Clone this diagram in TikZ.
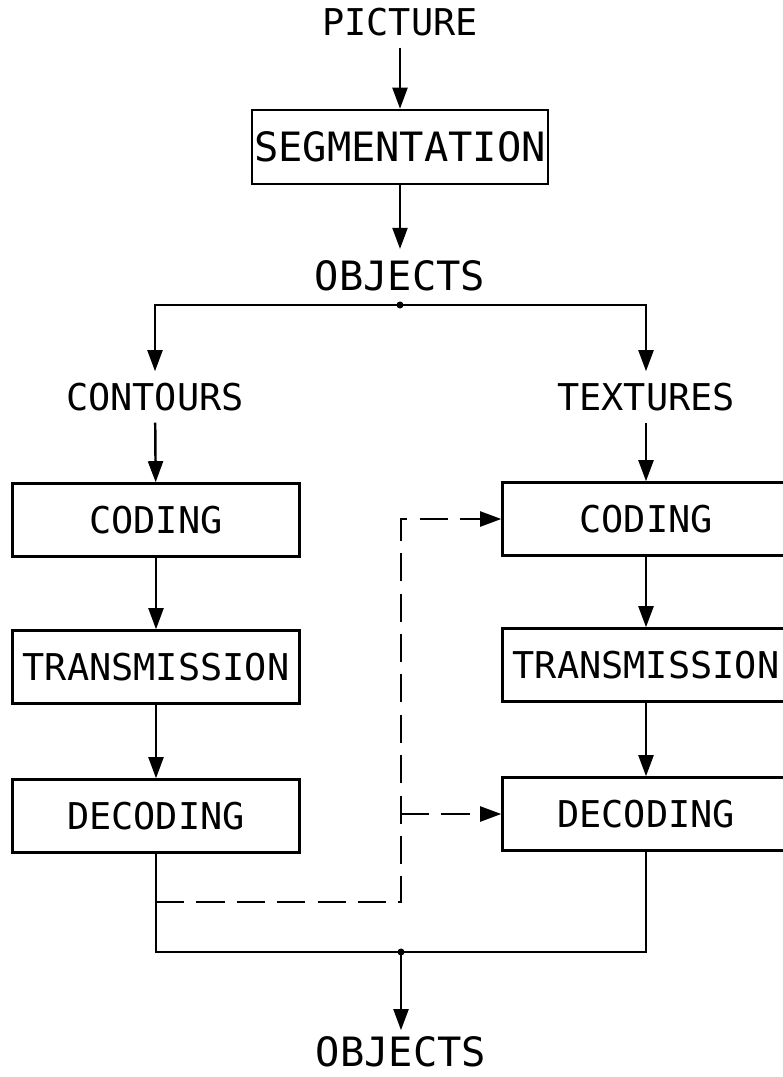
\documentclass[tikz,border=0pt]{standalone}
\usepackage{fontspec}
\setmonofont{DejaVu Sans Mono}
\usetikzlibrary{arrows.meta}

\begin{document}
\begin{tikzpicture}[x=0.02cm, y=-0.02cm, line width=1.4pt,
    every node/.style={font=\ttfamily\fontsize{21}{25}\selectfont},
    stage/.style={draw, minimum width=5.74cm, minimum height=1.46cm, inner sep=0pt},
    dataname/.style={inner sep=6pt},
    big/.style={font=\ttfamily\fontsize{23}{27}\selectfont},
    flow/.style={-{Triangle[length=12pt,width=8.5pt]}},
    feed/.style={flow, dash pattern=on 16pt off 7pt}]

    % Page frame, the right column runs off the edge
    \useasboundingbox (0,0) rectangle (783,1077);
    \clip (0,0) rectangle (783,1077);

    % Top part: picture to objects
    \node[dataname] (pic) at (400,22) {PICTURE};
    \node[stage, big, minimum width=5.92cm, minimum height=1.48cm] (seg) at (400,147) {SEGMENTATION};
    \node[dataname, big] (obj) at (400,276) {OBJECTS};
    \coordinate (split) at (400,305);

    \node[dataname] (cont) at (155,397) {CONTOURS};
    \node[dataname] (text) at (646,397) {TEXTURES};

    % Contour chain
    \node[stage] (ccod) at (156,520) {CODING};
    \node[stage] (ctra) at (156,667) {TRANSMISSION};
    \node[stage] (cdec) at (156,816) {DECODING};

    % Texture chain
    \node[stage] (tcod) at (646,519) {CODING};
    \node[stage] (ttra) at (646,665) {TRANSMISSION};
    \node[stage] (tdec) at (646,814) {DECODING};

    \coordinate (merge) at (401,952);
    \node[dataname, big, inner sep=3pt] (out) at (401,1052) {OBJECTS};

    % Solid flow
    \draw[flow] (pic) -- (seg);
    \draw[flow] (seg) -- (obj);
    \draw (obj) -- (split);
    \draw[flow] (split) -| (cont);
    \draw[flow] (split) -| (text);
    \draw[flow] (cont) -- (ccod);
    \draw[flow] (ccod) -- (ctra);
    \draw[flow] (ctra) -- (cdec);
    \draw[flow] (text) -- (tcod);
    \draw[flow] (tcod) -- (ttra);
    \draw[flow] (ttra) -- (tdec);
    \draw (cdec.south) |- (merge) -| (tdec.south);
    \draw[flow] (merge) -- (out);
    \fill (split) circle (2pt);
    \fill (merge) circle (2pt);

    % Contour side info passed to the texture coder and decoder
    \coordinate (tap) at (156,902);
    \coordinate (riser) at (401,902);
    \draw[feed] (tap) -- (riser) |- (tcod.west);
    \draw[feed] (riser |- tdec.west) -- (tdec.west);

\end{tikzpicture}
\end{document}
